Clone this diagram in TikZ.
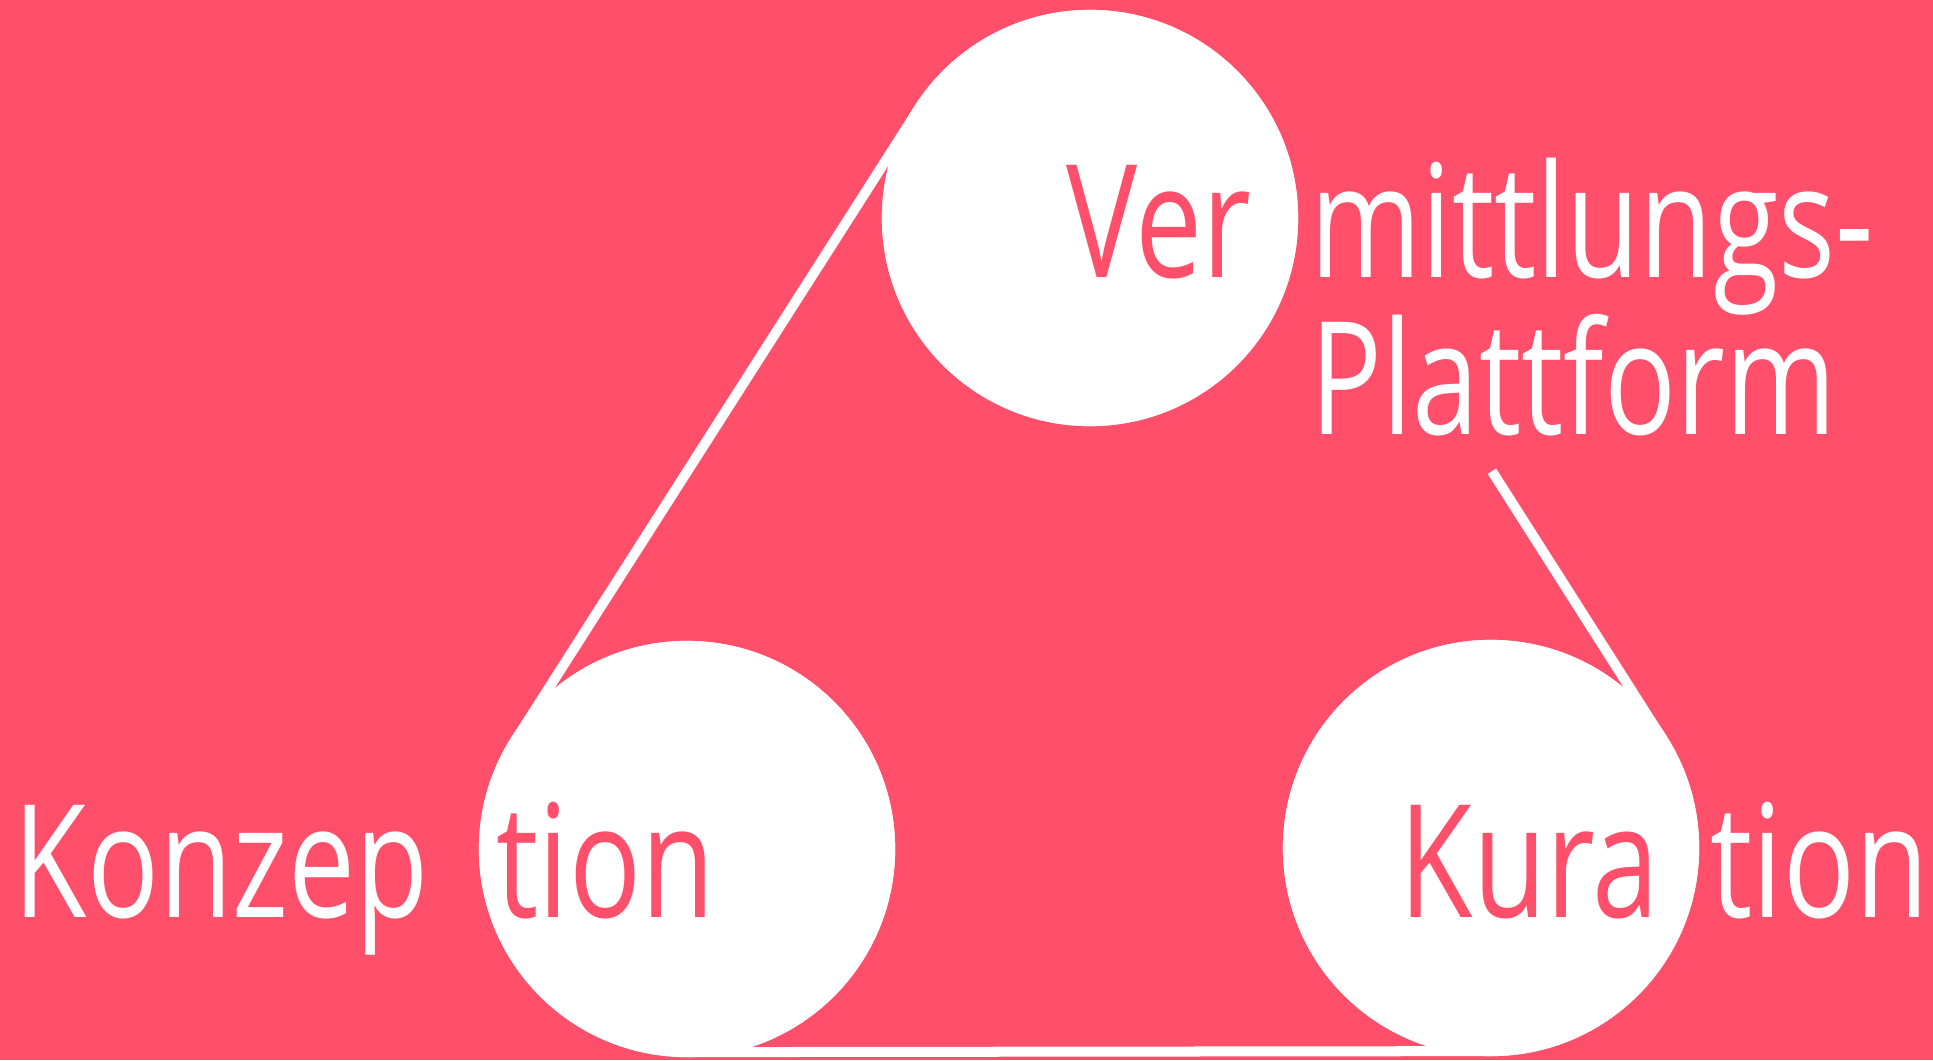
\documentclass[tikz,border=0pt]{standalone}
\usepackage{fontspec}
\setmainfont[FakeStretch=0.76]{Open Sans}
\usetikzlibrary{calc}
\definecolor{Rose}{RGB}{255,79,106}
\def\gap{2.03cm}
\tikzset{
  disc/.style={circle, fill=white, minimum size=4.16cm, inner sep=0pt},
  link/.style={white, line width=0.1cm},
  word/.style={white, anchor=base west, inner sep=0pt, font=\fontsize{44.7}{44.7}\selectfont},
  inword/.style={word, text=Rose},
}

\begin{document}
\begin{tikzpicture}[x=0.01cm, y=-0.01cm]
  % Hintergrund
  \fill[Rose] (0,0) rectangle (1933,1060);
  \useasboundingbox (0,0) rectangle (1933,1060);

  % Kreise
  \node[disc] (verm) at (1090,218) {};
  \node[disc] (konz) at (687,849) {};
  \node[disc] (kura) at (1491,848) {};

  % Tangenten
  \coordinate (vl) at ($(verm.center)!\gap!-90:(konz.center)$);
  \coordinate (kl) at ($(konz.center)!\gap!90:(verm.center)$);
  \coordinate (kb) at ($(konz.center)!\gap!-90:(kura.center)$);
  \coordinate (rb) at ($(kura.center)!\gap!90:(konz.center)$);
  \coordinate (vr) at ($(verm.center)!\gap!90:(kura.center)$);
  \coordinate (rr) at ($(kura.center)!\gap!-90:(verm.center)$);
  \coordinate (cut) at ($(vr)!0.575!(rr)$);
  \draw[link] (vl) -- (kl);
  \draw[link] (kb) -- (rb);
  \draw[link] (cut) -- (rr);
  \node[disc] at (verm) {};
  \node[disc] at (konz) {};
  \node[disc] at (kura) {};

  % Texte
  \node[inword] (ver) at (1066,277) {Ver};
  \node[word] (mitt) at (1310,277) {mittlungs-};
  \node[word] (platt) at (1310,434) {Plattform};
  \node[word] (konzep) at (13,917) {Konzep};
  \node[inword] (konztion) at (496,917) {tion};
  \node[inword] (kurat) at (1399,917) {Kura};
  \node[word] (kuration) at (1710,917) {tion};
\end{tikzpicture}
\end{document}
